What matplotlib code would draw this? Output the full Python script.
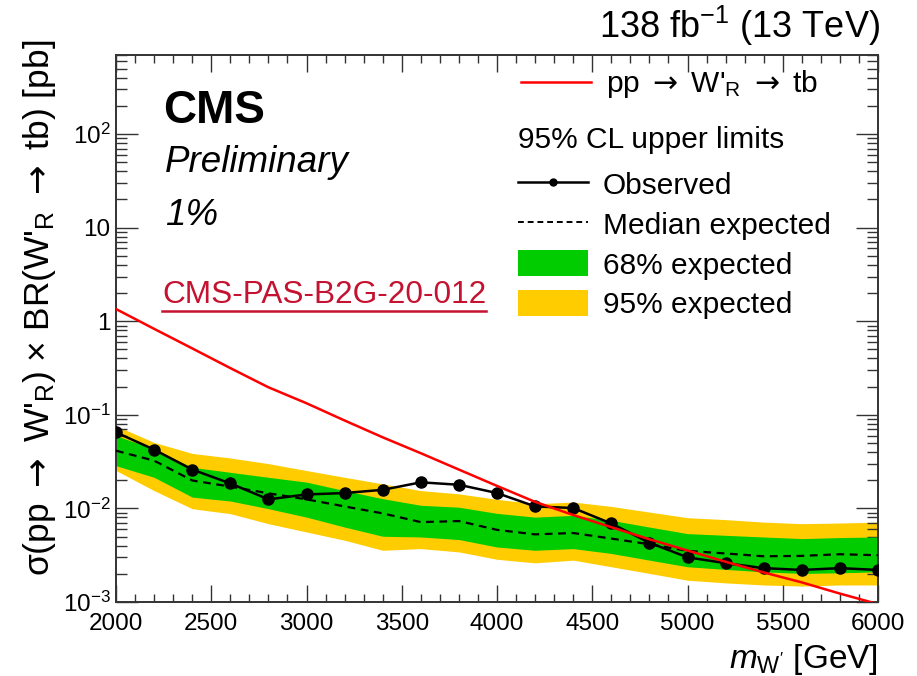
import matplotlib
matplotlib.use("Agg")
import matplotlib.pyplot as plt
from matplotlib.ticker import MultipleLocator, LogLocator, FuncFormatter, NullFormatter
from matplotlib.lines import Line2D
from matplotlib.patches import Patch
import numpy as np

plt.rcParams['font.family'] = ['Liberation Sans', 'DejaVu Sans']
plt.rcParams['mathtext.fontset'] = 'custom'
plt.rcParams['mathtext.rm'] = 'Liberation Sans'
plt.rcParams['mathtext.it'] = 'Liberation Sans:italic'
plt.rcParams['mathtext.bf'] = 'Liberation Sans:bold'
plt.rcParams['mathtext.sf'] = 'DejaVu Sans'

# W' mass points [GeV]
mass = [2000, 2200, 2400, 2600, 2800, 3000, 3200, 3400, 3600, 3800, 4000,
        4200, 4400, 4600, 4800, 5000, 5200, 5400, 5600, 5800, 6000]

# 95% CL upper limits on sigma x BR [pb]
observed = [0.065, 0.0425, 0.026, 0.0185, 0.0125, 0.0141, 0.0146, 0.0158, 0.019, 0.0179, 0.0146,
            0.0105, 0.0101, 0.0069, 0.0043, 0.0030, 0.0026, 0.0023, 0.0022, 0.0023, 0.0022]
expected = [0.0414, 0.0324, 0.0199, 0.0171, 0.0145, 0.0125, 0.0105, 0.00885, 0.00714, 0.00733, 0.0059,
            0.00528, 0.00546, 0.00476, 0.00414, 0.00352, 0.0033, 0.00308, 0.00311, 0.00324, 0.00316]
exp_m1 = [0.0286, 0.0215, 0.0132, 0.0120, 0.00993, 0.00807, 0.00632, 0.00504, 0.00495, 0.00465, 0.00387,
          0.00357, 0.00372, 0.0033, 0.0028, 0.00238, 0.00223, 0.0021, 0.00202, 0.00205, 0.0021]
exp_p1 = [0.0598, 0.0432, 0.0275, 0.0243, 0.0215, 0.0191, 0.0155, 0.0127, 0.0108, 0.0103, 0.00885,
          0.00807, 0.00843, 0.00745, 0.00632, 0.00538, 0.00516, 0.00495, 0.00476, 0.00488, 0.00495]
exp_m2 = [0.0254, 0.0155, 0.00993, 0.00879, 0.00687, 0.0056, 0.00457, 0.00357, 0.00372, 0.00343, 0.00286,
          0.00262, 0.0028, 0.00238, 0.00202, 0.00171, 0.0016, 0.00152, 0.00148, 0.00152, 0.00152]
exp_p2 = [0.0764, 0.0507, 0.0387, 0.0346, 0.0301, 0.0254, 0.0215, 0.0183, 0.0155, 0.0143, 0.0125,
          0.0112, 0.0117, 0.0105, 0.00914, 0.00796, 0.00759, 0.00714, 0.00687, 0.00698, 0.00714]

# Theory prediction pp -> W'_R -> tb [pb]
theory = [1.35, 0.83, 0.513, 0.316, 0.197, 0.133, 0.087, 0.0575, 0.0389, 0.026, 0.0174,
          0.01175, 0.0085, 0.0063, 0.00468, 0.00355, 0.00269, 0.00207, 0.00162, 0.00123, 0.00095]

W, H = 917, 676
fig = plt.figure(figsize=(W / 100, H / 100), dpi=100)
L, R, T, B = 116, 878, 55, 602
ax = fig.add_axes([L / W, 1 - B / H, (R - L) / W, (B - T) / H])

GREEN = '#00cc00'
YELLOW = '#ffcc00'

ax.fill_between(mass, exp_m2, exp_p2, color=YELLOW, lw=0, zorder=1)
ax.fill_between(mass, exp_m1, exp_p1, color=GREEN, lw=0, zorder=2)
ax.plot(mass, expected, color='black', lw=1.6, ls=(0, (3.5, 2.5)), zorder=3)
ax.plot(mass, observed, color='black', lw=1.8, marker='o', ms=8, zorder=4)
ax.plot(mass, theory, color='#ff0000', lw=1.8, zorder=5)

ax.set_yscale('log')
ax.set_xlim(2000, 6000)
ax.set_ylim(1e-3, 700)

ax.xaxis.set_major_locator(MultipleLocator(500))
ax.xaxis.set_minor_locator(MultipleLocator(100))
ax.yaxis.set_major_locator(LogLocator(base=10, numticks=20))
ax.yaxis.set_minor_locator(LogLocator(base=10, subs=np.arange(2, 10), numticks=20))
ax.yaxis.set_minor_formatter(NullFormatter())


def ylab(v, pos):
    e = int(round(np.log10(v)))
    if e == 0:
        return '1'
    if e == 1:
        return '10'
    return r'$10^{%d}$' % e


ax.yaxis.set_major_formatter(FuncFormatter(ylab))
ax.tick_params(which='both', direction='in', top=True, right=True, width=1.0, color='#333333')
ax.tick_params(axis='x', which='major', length=12, labelsize=17.5, pad=8)
ax.tick_params(axis='x', which='minor', length=6)
ax.tick_params(axis='y', which='major', length=15.5, labelsize=17.5, pad=4)
ax.tick_params(axis='y', which='minor', length=8)
for s in ax.spines.values():
    s.set_linewidth(1.4)
    s.set_color('#333333')


def fx(px):
    return px / W


def fy(py):
    return 1 - py / H


ARROW = r'$\mathsf{\rightarrow}$'

fig.text(fx(40), fy(40),
         "σ(pp " + ARROW + r" W'$_{\mathrm{R}}$) × BR(W'$_{\mathrm{R}}$ " + ARROW + " tb) [pb]",
         rotation=90, ha='center', va='top', fontsize=25.5)
fig.text(fx(878), fy(668), r"$m_{\mathrm{W}'}$ [GeV]", ha='right', va='baseline', fontsize=24)
fig.text(fx(880), fy(38), r"138 fb$^{-1}$ (13 TeV)", ha='right', va='baseline', fontsize=26)

fig.text(fx(163), fy(123), "CMS", fontsize=33, fontweight='bold', va='baseline')
fig.text(fx(165), fy(172), "Preliminary", fontsize=26.5, style='italic', va='baseline')
fig.text(fx(165), fy(225), "1%", fontsize=26.5, style='italic', va='baseline')

LINK = '#c41230'
link = fig.text(fx(162), fy(303), "CMS-PAS-B2G-20-012", fontsize=22.7, color=LINK, va='baseline')
fig.canvas.draw()
bb = link.get_window_extent()
fig.add_artist(Line2D([bb.x0 / W, bb.x1 / W], [fy(311), fy(311)],
                      transform=fig.transFigure, color=LINK, lw=1.8))

LEG_FS = 21.5
th_leg = ax.legend(handles=[Line2D([], [], color='#ff0000', lw=1.8)],
                   labels=["pp " + ARROW + r" W'$_{\mathrm{R}}$ " + ARROW + " tb"],
                   loc='upper left', bbox_to_anchor=(fx(521), fy(68)),
                   bbox_transform=fig.transFigure, frameon=False, fontsize=LEG_FS,
                   handlelength=2.35, handletextpad=0.5, borderpad=0, borderaxespad=0)
ax.add_artist(th_leg)

handles = [Line2D([], [], color='black', lw=1.8, marker='o', ms=5),
           Line2D([], [], color='black', lw=1.4, ls=(0, (3, 2))),
           Patch(facecolor=GREEN, edgecolor='none'),
           Patch(facecolor=YELLOW, edgecolor='none')]
labels = ['Observed', 'Median expected', '68% expected', '95% expected']
leg = ax.legend(handles=handles, labels=labels, title='95% CL upper limits',
                title_fontsize=LEG_FS, alignment='left',
                loc='upper left', bbox_to_anchor=(fx(518), fy(126)),
                bbox_transform=fig.transFigure, frameon=False, fontsize=LEG_FS,
                handlelength=2.35, handleheight=0.95, handletextpad=0.5,
                labelspacing=0.36, borderpad=0, borderaxespad=0)
leg._legend_box.sep = 12

fig.savefig('out.png', dpi=100)
